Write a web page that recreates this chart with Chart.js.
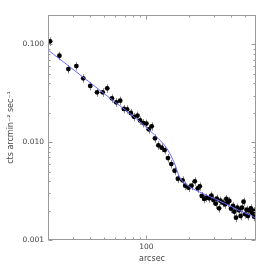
<!DOCTYPE html>
<html>
<head>
<meta charset="utf-8">
<script src="https://cdn.jsdelivr.net/npm/chart.js@4.4.0/dist/chart.umd.min.js"></script>
<style>
  html, body { margin: 0; padding: 0; background: #fff; }
  #wrap { width: 271px; height: 271px; }
</style>
</head>
<body>
<div id="wrap"><canvas id="profile"></canvas></div>
<script>
// radial surface brightness profile (arcsec, cts arcmin^-2 sec^-1)
const radius = [
  20.7, 24.1, 27.9, 31.8, 35.6, 39.9, 44.6, 48.9, 52.7, 56.9,
  61.0, 65.1, 69.1, 72.9, 77.5, 81.7, 86.4, 90.1, 95.2, 100.0,
  103.8, 109.0, 115.0, 121.6, 128.3, 134.7, 142.2, 150.2, 158.5, 167.3,
  180.5, 188.6, 199.0, 209.0, 220.5, 231.5, 239.2, 247.1, 257.0, 266.8,
  278.8, 289.4, 299.0, 310.4, 315.4, 328.0, 335.0, 347.8, 361.6, 369.4,
  377.3, 387.9, 398.8, 411.9, 420.7, 432.5, 441.8, 454.2, 466.2, 476.9,
  489.5, 500.7, 514.0, 525.8, 537.0, 552.1, 563.9, 576.1, 582.7
];
const brightness = [
  0.1076, 0.0766, 0.0560, 0.0601, 0.0450, 0.0376, 0.0324, 0.0324, 0.0356, 0.0281,
  0.0256, 0.0266, 0.0219, 0.0217, 0.0199, 0.0182, 0.0187, 0.0167, 0.0157, 0.0155,
  0.01355, 0.01454, 0.01096, 0.00930, 0.00879, 0.00832, 0.00689, 0.00598, 0.00511, 0.00423,
  0.00408, 0.00359, 0.00343, 0.00359, 0.00398, 0.00338, 0.00354, 0.00282, 0.00263, 0.00271,
  0.00267, 0.00284, 0.00256, 0.00235, 0.00265, 0.00211, 0.00252, 0.00241, 0.00232, 0.00263,
  0.00241, 0.00251, 0.00209, 0.00223, 0.00195, 0.00169, 0.00214, 0.00201, 0.00176, 0.00214,
  0.00246, 0.00184, 0.00204, 0.00176, 0.00201, 0.00211, 0.00189, 0.00198, 0.00173
];
const errFrac = 0.1; // relative size of the error bars

// fitted model curve
const modelRadius = [
  20, 28.7, 39.7, 55.0, 76.2, 97.3, 114.4, 128.3, 139.2, 150.9,
  161.1, 169.2, 177.7, 189.6, 209.0, 238.1, 280.2, 329.6, 387.9, 456.5,
  537.0, 600
];
const modelBrightness = [
  0.0877, 0.0587, 0.0408, 0.0283, 0.0197, 0.01464, 0.01185, 0.01005, 0.00873, 0.00706,
  0.00571, 0.00462, 0.00411, 0.00374, 0.00340, 0.00310, 0.00279, 0.00251, 0.00225, 0.00200,
  0.00182, 0.00167
];

// axis ticks
const xLabelTicks = [100];
const xMajor = [100];
const xMinor = [30, 40, 50, 60, 70, 80, 90, 200, 300, 400, 500];
const yLabelTicks = [0.001, 0.01, 0.1];
const yMinor = [0.002, 0.003, 0.004, 0.005, 0.006, 0.007, 0.008, 0.009,
                0.02, 0.03, 0.04, 0.05, 0.06, 0.07, 0.08, 0.09];

const txt = "#444";
const frame = "#9a9a9a";

// vertical error bars behind the points
const errorBars = {
  id: "errorBars",
  beforeDatasetsDraw(chart) {
    const { ctx, scales: { x, y } } = chart;
    ctx.save();
    ctx.strokeStyle = "#8a8a8a";
    ctx.lineWidth = 1;
    radius.forEach((r, i) => {
      const px = Math.round(x.getPixelForValue(r)) + 0.5;
      const v = brightness[i];
      ctx.beginPath();
      ctx.moveTo(px, y.getPixelForValue(v * (1 + errFrac)));
      ctx.lineTo(px, y.getPixelForValue(v * (1 - errFrac)));
      ctx.stroke();
    });
    ctx.restore();
  }
};

// box round the plot with inward ticks on all four sides
const frameTicks = {
  id: "frameTicks",
  afterDraw(chart) {
    const { ctx, chartArea: a, scales: { x, y } } = chart;
    const L = Math.round(a.left) + 0.5, R = Math.round(a.right) - 0.5;
    const T = Math.round(a.top) + 0.5, B = Math.round(a.bottom) - 0.5;
    ctx.save();
    ctx.strokeStyle = frame;
    ctx.lineWidth = 1;
    ctx.strokeRect(L, T, R - L, B - T);
    ctx.beginPath();
    const xt = (v, len) => {
      const px = Math.round(x.getPixelForValue(v)) + 0.5;
      ctx.moveTo(px, B); ctx.lineTo(px, B - len);
      ctx.moveTo(px, T); ctx.lineTo(px, T + len);
    };
    const yt = (v, len) => {
      const py = Math.round(y.getPixelForValue(v)) + 0.5;
      ctx.moveTo(L, py); ctx.lineTo(L + len, py);
      ctx.moveTo(R, py); ctx.lineTo(R - len, py);
    };
    xMajor.forEach(v => xt(v, 4));
    xMinor.forEach(v => xt(v, 2));
    yLabelTicks.forEach(v => yt(v, 4));
    yMinor.forEach(v => yt(v, 2));
    ctx.stroke();
    ctx.restore();
  }
};

new Chart(document.getElementById("profile"), {
  type: "scatter",
  data: {
    datasets: [
      {
        type: "line",
        data: modelRadius.map((r, i) => ({ x: r, y: modelBrightness[i] })),
        borderColor: "rgb(105,105,255)",
        borderWidth: 1,
        pointRadius: 0,
        tension: 0.3,
        fill: false,
      },
      {
        data: radius.map((r, i) => ({ x: r, y: brightness[i] })),
        backgroundColor: "#000",
        borderColor: "#000",
        pointRadius: 2.4,
        borderWidth: 0,
      },
    ],
  },
  options: {
    responsive: true,
    maintainAspectRatio: false,
    animation: false,
    layout: { padding: { top: 15, right: 15, left: 0, bottom: 0 } },
    plugins: { legend: { display: false }, tooltip: { enabled: false } },
    scales: {
      x: {
        type: "logarithmic",
        min: 20,
        max: 600,
        grid: { display: false, drawTicks: false },
        border: { display: false },
        afterBuildTicks: s => { s.ticks = xLabelTicks.map(v => ({ value: v })); },
        afterFit: s => { s.height = 31; },
        ticks: {
          color: txt,
          padding: 3,
          maxRotation: 0,
          font: { family: "'DejaVu Sans', sans-serif", size: 7.5 },
          callback: v => String(v),
        },
        title: {
          display: true,
          text: "arcsec",
          color: txt,
          padding: { top: 0, bottom: 7 },
          font: { family: "'DejaVu Sans', sans-serif", size: 8 },
        },
      },
      y: {
        type: "logarithmic",
        min: 0.001,
        max: 0.2,
        grid: { display: false, drawTicks: false },
        border: { display: false },
        afterBuildTicks: s => { s.ticks = yLabelTicks.map(v => ({ value: v })); },
        afterFit: s => { s.width = 48; },
        ticks: {
          color: txt,
          padding: 4,
          font: { family: "'DejaVu Sans', sans-serif", size: 7.5 },
          callback: v => Number(v).toFixed(3),
        },
        title: {
          display: true,
          text: "cts arcmin⁻² sec⁻¹",
          color: txt,
          padding: { top: 6, bottom: 0 },
          font: { family: "'DejaVu Sans', sans-serif", size: 8 },
        },
      },
    },
  },
  plugins: [errorBars, frameTicks],
});
</script>
</body>
</html>
